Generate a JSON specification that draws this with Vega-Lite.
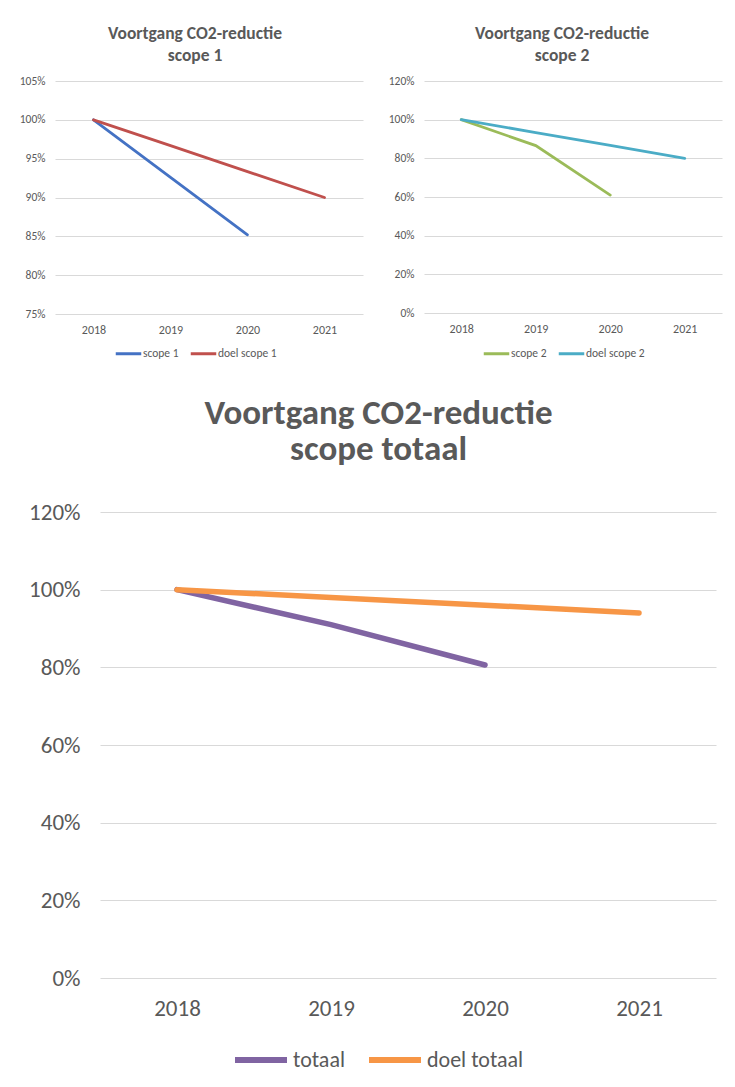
{
  "$schema": "https://vega.github.io/schema/vega-lite/v6.json",
  "padding": {"left": 19, "top": 24, "right": 13, "bottom": 10},
  "background": "white",
  "config": {
    "font": "Carlito, Lato, sans-serif",
    "view": {"stroke": null},
    "axis": {"labelColor": "#595959", "gridColor": "#D9D9D9", "gridWidth": 1, "domain": false, "ticks": false, "title": null, "labelFont": "Carlito, Lato, sans-serif"},
    "title": {"color": "#595959", "font": "Carlito, Lato, sans-serif", "anchor": "middle"},
    "legend": {"labelColor": "#595959", "labelFont": "Carlito, Lato, sans-serif", "title": null, "symbolType": "stroke"}
  },
  "spacing": 36,
  "resolve": {"scale": {"color": "independent"}, "legend": {"color": "independent"}},
  "vconcat": [
    {
      "spacing": 25,
      "resolve": {"scale": {"color": "independent"}, "legend": {"color": "independent"}},
      "hconcat": [
        {
          "width": 308,
          "height": 233,
          "title": {"text": ["Voortgang CO2-reductie", "scope 1"], "fontSize": 17.5, "fontWeight": "bold", "lineHeight": 22, "offset": 11, "dx": -14},
          "data": {"values": [
            {"jaar": "2018", "reeks": "scope 1", "waarde": 1.0},
            {"jaar": "2019", "reeks": "scope 1", "waarde": 0.926},
            {"jaar": "2020", "reeks": "scope 1", "waarde": 0.852},
            {"jaar": "2018", "reeks": "doel scope 1", "waarde": 1.0},
            {"jaar": "2019", "reeks": "doel scope 1", "waarde": 0.9667},
            {"jaar": "2020", "reeks": "doel scope 1", "waarde": 0.9333},
            {"jaar": "2021", "reeks": "doel scope 1", "waarde": 0.9}
          ]},
          "mark": {"type": "line", "strokeWidth": 2.8, "strokeCap": "round"},
          "encoding": {
            "x": {"field": "jaar", "type": "ordinal", "axis": {"labelAngle": 0, "labelFontSize": 12, "labelPadding": 10, "grid": false}},
            "y": {"field": "waarde", "type": "quantitative", "scale": {"domain": [0.75, 1.05], "nice": false, "zero": false},
                  "axis": {"values": [0.75, 0.8, 0.85, 0.9, 0.95, 1.0, 1.05], "format": ".0%", "labelFontSize": 11.5, "labelPadding": 10, "minExtent": 36, "maxExtent": 36}},
            "color": {"field": "reeks", "type": "nominal",
                      "scale": {"domain": ["scope 1", "doel scope 1"], "range": ["#4472C4", "#C0504D"]},
                      "legend": {"orient": "none", "legendX": 59, "legendY": 258, "direction": "horizontal", "symbolSize": 650, "symbolStrokeWidth": 3, "labelFontSize": 11.5, "labelOffset": 0, "columnPadding": 5}}
          }
        },
        {
          "width": 298,
          "height": 232,
          "title": {"text": ["Voortgang CO2-reductie", "scope 2"], "fontSize": 17.5, "fontWeight": "bold", "lineHeight": 22, "offset": 11, "dx": -11},
          "data": {"values": [
            {"jaar": "2018", "reeks": "scope 2", "waarde": 1.0},
            {"jaar": "2019", "reeks": "scope 2", "waarde": 0.866},
            {"jaar": "2020", "reeks": "scope 2", "waarde": 0.61},
            {"jaar": "2018", "reeks": "doel scope 2", "waarde": 1.0},
            {"jaar": "2019", "reeks": "doel scope 2", "waarde": 0.9333},
            {"jaar": "2020", "reeks": "doel scope 2", "waarde": 0.8667},
            {"jaar": "2021", "reeks": "doel scope 2", "waarde": 0.8}
          ]},
          "mark": {"type": "line", "strokeWidth": 2.8, "strokeCap": "round"},
          "encoding": {
            "x": {"field": "jaar", "type": "ordinal", "axis": {"labelAngle": 0, "labelFontSize": 12, "labelPadding": 10, "grid": false}},
            "y": {"field": "waarde", "type": "quantitative", "scale": {"domain": [0, 1.2], "nice": false},
                  "axis": {"values": [0, 0.2, 0.4, 0.6, 0.8, 1.0, 1.2], "format": ".0%", "labelFontSize": 11.5, "labelPadding": 10, "minExtent": 36, "maxExtent": 36}},
            "color": {"field": "reeks", "type": "nominal",
                      "scale": {"domain": ["scope 2", "doel scope 2"], "range": ["#9BBB59", "#4BACC6"]},
                      "legend": {"orient": "none", "legendX": 58, "legendY": 258, "direction": "horizontal", "symbolSize": 650, "symbolStrokeWidth": 3, "labelFontSize": 11.5, "labelOffset": 0, "columnPadding": 5}}
          }
        }
      ]
    },
    {
      "width": 661,
      "height": 466,
      "title": {"text": ["Voortgang CO2-reductie", "scope totaal"], "fontSize": 35, "fontWeight": "bold", "lineHeight": 36, "offset": 34, "dx": -7},
      "data": {"values": [
        {"jaar": "2018", "reeks": "totaal", "waarde": 1.0},
        {"jaar": "2019", "reeks": "totaal", "waarde": 0.91},
        {"jaar": "2020", "reeks": "totaal", "waarde": 0.806},
        {"jaar": "2018", "reeks": "doel totaal", "waarde": 1.0},
        {"jaar": "2019", "reeks": "doel totaal", "waarde": 0.98},
        {"jaar": "2020", "reeks": "doel totaal", "waarde": 0.96},
        {"jaar": "2021", "reeks": "doel totaal", "waarde": 0.94}
      ]},
      "mark": {"type": "line", "strokeWidth": 5.5, "strokeCap": "round"},
      "encoding": {
        "x": {"field": "jaar", "type": "ordinal", "scale": {"range": [45, 661]}, "axis": {"labelAngle": 0, "labelFontSize": 23, "labelPadding": 19, "grid": false}},
        "y": {"field": "waarde", "type": "quantitative", "scale": {"domain": [0, 1.2], "nice": false},
              "axis": {"values": [0, 0.2, 0.4, 0.6, 0.8, 1.0, 1.2], "format": ".0%", "labelFontSize": 23, "labelPadding": 20, "offset": -45}},
        "color": {"field": "reeks", "type": "nominal",
                  "scale": {"domain": ["totaal", "doel totaal"], "range": ["#8064A2", "#F79646"]},
                  "legend": {"orient": "none", "legendX": 177, "legendY": 519, "direction": "horizontal", "symbolSize": 2704, "symbolStrokeWidth": 6, "labelFontSize": 22, "labelOffset": 3, "columnPadding": 12}}
      }
    }
  ]
}
